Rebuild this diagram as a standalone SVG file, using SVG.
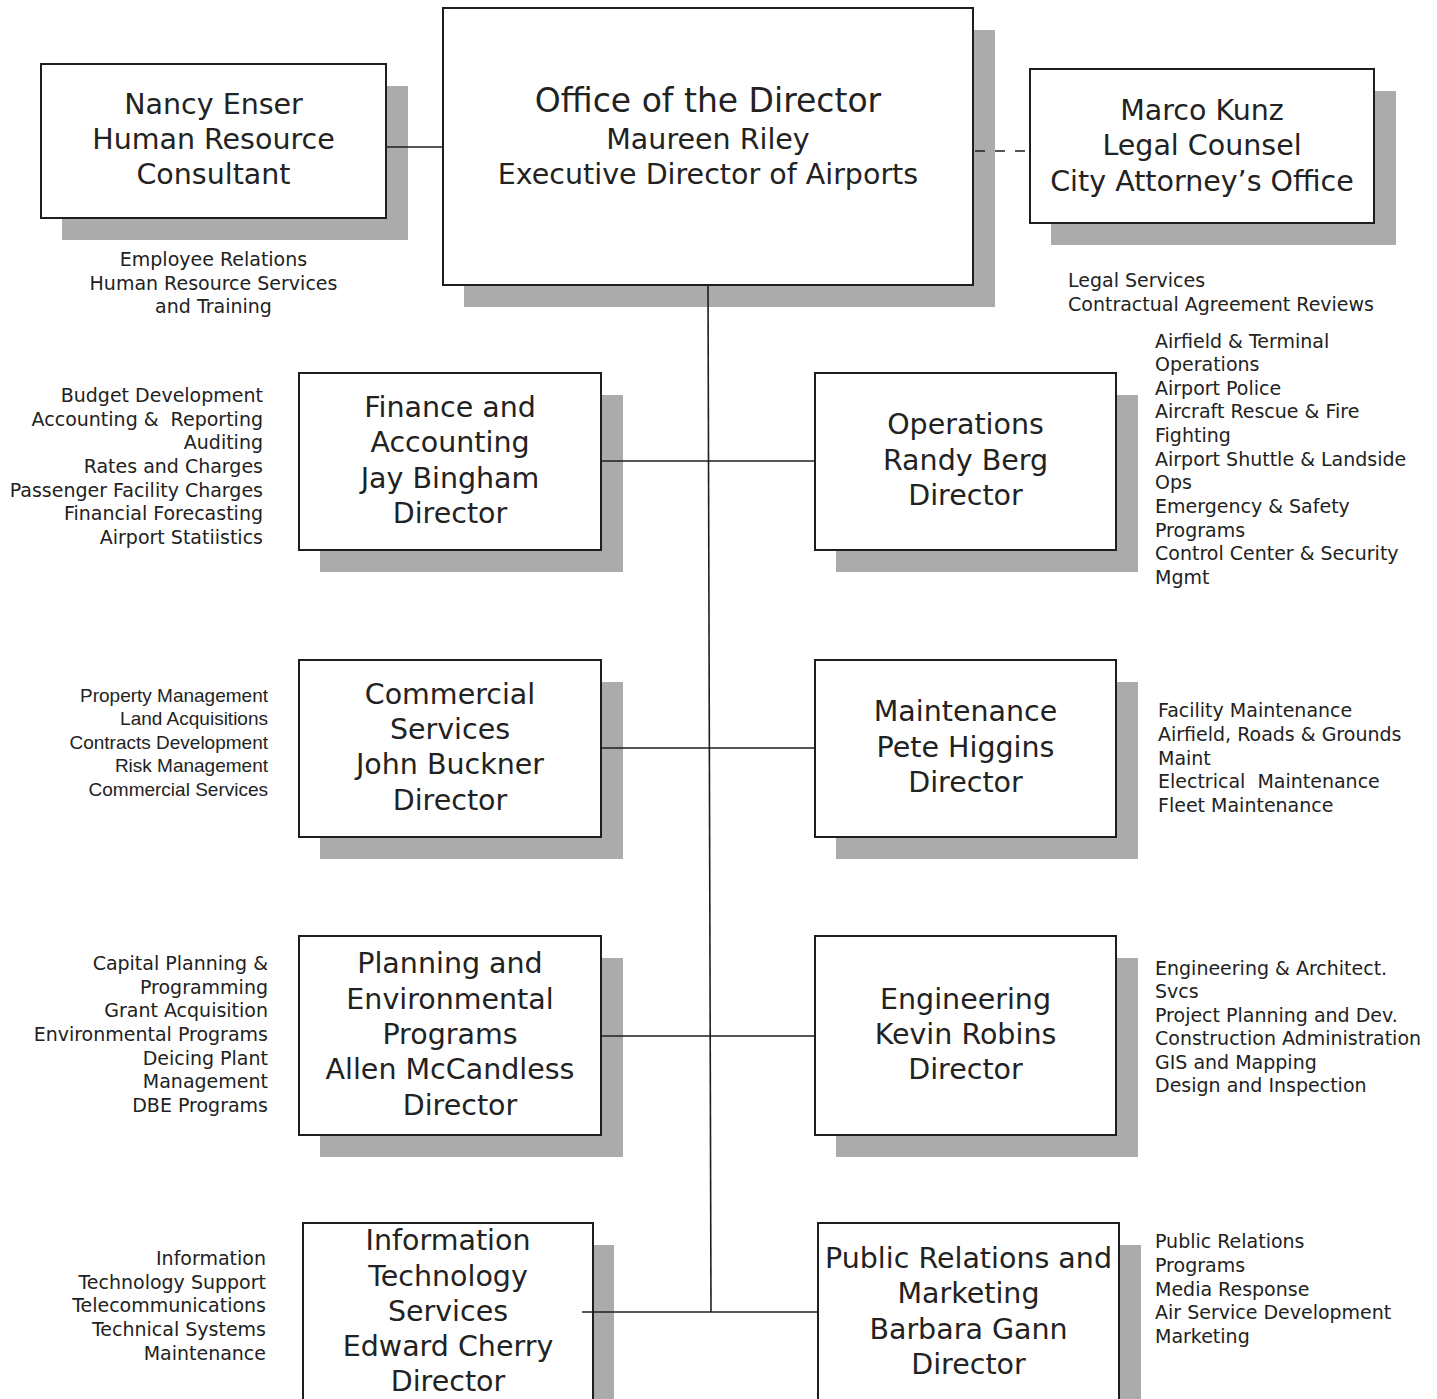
<svg xmlns="http://www.w3.org/2000/svg" width="1437" height="1399" viewBox="0 0 1437 1399">
  <style>
    .shadow { fill: #ababab; }
    .box { fill: #ffffff; stroke: #1e1e1e; stroke-width: 2; }
    .line { stroke: #1e1e1e; stroke-width: 1.6; fill: none; }
    .dash { stroke: #1e1e1e; stroke-width: 1.6; fill: none; stroke-dasharray: 10 10; }
    text { font-family: "DejaVu Sans", Verdana, sans-serif; fill: #222222; }
    .title { font-size: 33px; text-anchor: middle; }
    .name { font-size: 28.5px; text-anchor: middle; }
    .list { font-size: 19px; }
    .narrow { font-family: "Liberation Sans", Arial, sans-serif; }
    .r { text-anchor: end; }
    .c { text-anchor: middle; }
  </style>

  <rect width="1437" height="1399" fill="#ffffff"/>

  <!-- Office of the Director -->
  <g id="office-director">
    <rect class="shadow" x="464" y="30" width="531" height="277"/>
    <rect class="box" x="443" y="8" width="530" height="277"/>
    <text class="title" x="708" y="112">Office of the Director</text>
    <text class="name" x="708" y="149">Maureen Riley</text>
    <text class="name" x="708" y="184">Executive Director of Airports</text>
  </g>

  <!-- Human resource consultant -->
  <g id="hr-consultant">
    <rect class="shadow" x="62" y="86" width="346" height="154"/>
    <rect class="box" x="41" y="64" width="345" height="154"/>
    <text class="name" x="213.5" y="114">Nancy Enser</text>
    <text class="name" x="213.5" y="149">Human Resource</text>
    <text class="name" x="213.5" y="184">Consultant</text>
    <text class="list c" x="213.5" y="266">Employee Relations</text>
    <text class="list c" x="213.5" y="290">Human Resource Services</text>
    <text class="list c" x="213.5" y="313">and Training</text>
  </g>

  <!-- Legal counsel -->
  <g id="legal-counsel">
    <rect class="shadow" x="1051" y="91" width="345" height="154"/>
    <rect class="box" x="1030" y="69" width="344" height="154"/>
    <text class="name" x="1202" y="120">Marco Kunz</text>
    <text class="name" x="1202" y="155">Legal Counsel</text>
    <text class="name" x="1202" y="191">City Attorney’s Office</text>
    <text class="list" x="1068" y="287">Legal Services</text>
    <text class="list" x="1068" y="311">Contractual Agreement Reviews</text>
  </g>

  <!-- Finance and Accounting -->
  <g id="finance">
    <rect class="shadow" x="320" y="395" width="303" height="177"/>
    <rect class="box" x="299" y="373" width="302" height="177"/>
    <text class="name" x="450" y="417">Finance and</text>
    <text class="name" x="450" y="452">Accounting</text>
    <text class="name" x="450" y="488">Jay Bingham</text>
    <text class="name" x="450" y="523">Director</text>
    <text class="list r" x="263" y="402">Budget Development</text>
    <text class="list r" x="263" y="426" xml:space="preserve">Accounting &amp;  Reporting</text>
    <text class="list r" x="263" y="449">Auditing</text>
    <text class="list r" x="263" y="473">Rates and Charges</text>
    <text class="list r" x="263" y="497">Passenger Facility Charges</text>
    <text class="list r" x="263" y="520">Financial Forecasting</text>
    <text class="list r" x="263" y="544">Airport Statiistics</text>
  </g>

  <!-- Operations -->
  <g id="operations">
    <rect class="shadow" x="836" y="395" width="302" height="177"/>
    <rect class="box" x="815" y="373" width="301" height="177"/>
    <text class="name" x="965.5" y="434">Operations</text>
    <text class="name" x="965.5" y="470">Randy Berg</text>
    <text class="name" x="965.5" y="505">Director</text>
    <text class="list" x="1155" y="348">Airfield &amp; Terminal</text>
    <text class="list" x="1155" y="371">Operations</text>
    <text class="list" x="1155" y="395">Airport Police</text>
    <text class="list" x="1155" y="418">Aircraft Rescue &amp; Fire</text>
    <text class="list" x="1155" y="442">Fighting</text>
    <text class="list" x="1155" y="466">Airport Shuttle &amp; Landside</text>
    <text class="list" x="1155" y="489">Ops</text>
    <text class="list" x="1155" y="513">Emergency &amp; Safety</text>
    <text class="list" x="1155" y="537">Programs</text>
    <text class="list" x="1155" y="560">Control Center &amp; Security</text>
    <text class="list" x="1155" y="584">Mgmt</text>
  </g>

  <!-- Commercial Services -->
  <g id="commercial">
    <rect class="shadow" x="320" y="682" width="303" height="177"/>
    <rect class="box" x="299" y="660" width="302" height="177"/>
    <text class="name" x="450" y="704">Commercial</text>
    <text class="name" x="450" y="739">Services</text>
    <text class="name" x="450" y="774">John Buckner</text>
    <text class="name" x="450" y="810">Director</text>
    <text class="list narrow r" x="268" y="702">Property Management</text>
    <text class="list narrow r" x="268" y="725">Land Acquisitions</text>
    <text class="list narrow r" x="268" y="749">Contracts Development</text>
    <text class="list narrow r" x="268" y="772">Risk Management</text>
    <text class="list narrow r" x="268" y="796">Commercial Services</text>
  </g>

  <!-- Maintenance -->
  <g id="maintenance">
    <rect class="shadow" x="836" y="682" width="302" height="177"/>
    <rect class="box" x="815" y="660" width="301" height="177"/>
    <text class="name" x="965.5" y="721">Maintenance</text>
    <text class="name" x="965.5" y="757">Pete Higgins</text>
    <text class="name" x="965.5" y="792">Director</text>
    <text class="list" x="1158" y="717">Facility Maintenance</text>
    <text class="list" x="1158" y="741">Airfield, Roads &amp; Grounds</text>
    <text class="list" x="1158" y="765">Maint</text>
    <text class="list" x="1158" y="788" xml:space="preserve">Electrical  Maintenance</text>
    <text class="list" x="1158" y="812">Fleet Maintenance</text>
  </g>

  <!-- Planning and Environmental Programs -->
  <g id="planning">
    <rect class="shadow" x="320" y="958" width="303" height="199"/>
    <rect class="box" x="299" y="936" width="302" height="199"/>
    <text class="name" x="450" y="973">Planning and</text>
    <text class="name" x="450" y="1009">Environmental</text>
    <text class="name" x="450" y="1044">Programs</text>
    <text class="name" x="450" y="1079">Allen McCandless</text>
    <text class="name" x="460" y="1115">Director</text>
    <text class="list r" x="268" y="970">Capital Planning &amp;</text>
    <text class="list r" x="268" y="994">Programming</text>
    <text class="list r" x="268" y="1017">Grant Acquisition</text>
    <text class="list r" x="268" y="1041">Environmental Programs</text>
    <text class="list r" x="268" y="1065">Deicing Plant</text>
    <text class="list r" x="268" y="1088">Management</text>
    <text class="list r" x="268" y="1112">DBE Programs</text>
  </g>

  <!-- Engineering -->
  <g id="engineering">
    <rect class="shadow" x="836" y="958" width="302" height="199"/>
    <rect class="box" x="815" y="936" width="301" height="199"/>
    <text class="name" x="965.5" y="1009">Engineering</text>
    <text class="name" x="965.5" y="1044">Kevin Robins</text>
    <text class="name" x="965.5" y="1079">Director</text>
    <text class="list" x="1155" y="975">Engineering &amp; Architect.</text>
    <text class="list" x="1155" y="998">Svcs</text>
    <text class="list" x="1155" y="1022">Project Planning and Dev.</text>
    <text class="list" x="1155" y="1045">Construction Administration</text>
    <text class="list" x="1155" y="1069">GIS and Mapping</text>
    <text class="list" x="1155" y="1092">Design and Inspection</text>
  </g>

  <!-- Information Technology Services -->
  <g id="it-services">
    <rect class="shadow" x="324" y="1245" width="290" height="190"/>
    <rect class="box" x="303" y="1223" width="290" height="190"/>
    <text class="name" x="448" y="1250">Information</text>
    <text class="name" x="448" y="1286">Technology</text>
    <text class="name" x="448" y="1321">Services</text>
    <text class="name" x="448" y="1356">Edward Cherry</text>
    <text class="name" x="448" y="1391">Director</text>
    <text class="list r" x="266" y="1265">Information</text>
    <text class="list r" x="266" y="1289">Technology Support</text>
    <text class="list r" x="266" y="1312">Telecommunications</text>
    <text class="list r" x="266" y="1336">Technical Systems</text>
    <text class="list r" x="266" y="1360">Maintenance</text>
  </g>

  <!-- Public Relations and Marketing -->
  <g id="public-relations">
    <rect class="shadow" x="839" y="1245" width="302" height="190"/>
    <rect class="box" x="818" y="1223" width="301" height="190"/>
    <text class="name" x="968.5" y="1268">Public Relations and</text>
    <text class="name" x="968.5" y="1303">Marketing</text>
    <text class="name" x="968.5" y="1339">Barbara Gann</text>
    <text class="name" x="968.5" y="1374">Director</text>
    <text class="list" x="1155" y="1248">Public Relations</text>
    <text class="list" x="1155" y="1272">Programs</text>
    <text class="list" x="1155" y="1296">Media Response</text>
    <text class="list" x="1155" y="1319">Air Service Development</text>
    <text class="list" x="1155" y="1343">Marketing</text>
  </g>

  <!-- reporting lines, drawn over the drop shadows -->
  <g id="connectors">
    <line class="line" x1="708" y1="285" x2="711" y2="1312"/>
    <line class="line" x1="386" y1="147" x2="443" y2="147"/>
    <line class="dash" x1="975" y1="151" x2="1030" y2="151"/>
    <line class="line" x1="601" y1="461" x2="815" y2="461"/>
    <line class="line" x1="601" y1="748" x2="815" y2="748"/>
    <line class="line" x1="601" y1="1036" x2="815" y2="1036"/>
    <line class="line" x1="582" y1="1312" x2="818" y2="1312"/>
  </g>
</svg>
